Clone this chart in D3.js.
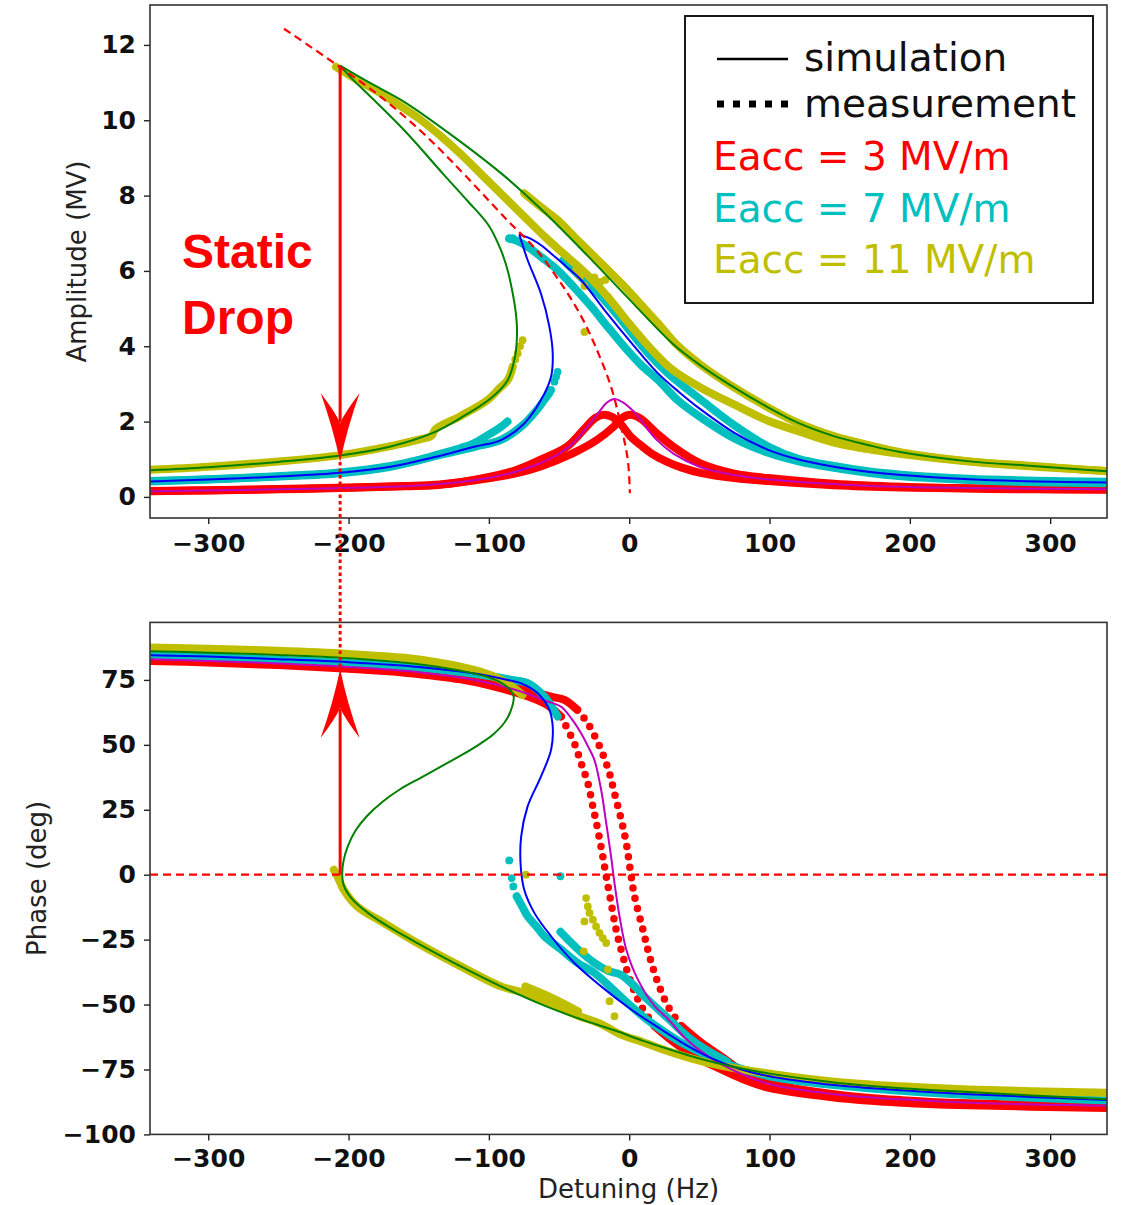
<!DOCTYPE html>
<html><head><meta charset="utf-8">
<script src="https://cdn.jsdelivr.net/npm/d3@7"></script>
<style>body{margin:0;background:#fff}</style>
</head><body><svg id="c" width="1122" height="1205"></svg>
<script>
// ---------- tick values ----------
const xTicks = [-300,-200,-100,0,100,200,300];
const ampTicks = [0,2,4,6,8,10,12];
const phaseTicks = [-100,-75,-50,-25,0,25,50,75];
const legendLabels = ["simulation","measurement","Eacc = 3 MV/m","Eacc = 7 MV/m","Eacc = 11 MV/m"];

// ---------- AMPLITUDE panel (detuning Hz, amplitude MV) ----------
const backbone = [[-246,12.43],[-208,11.46],[-177,10.62],[-149,9.73],[-126,8.89],[-87,7.35],[-66,6.55],[-47,5.58],[-34,4.78],[-24,3.99],[-13,2.93],[-5.7,1.86],[-1,0.98],[0.5,0.1]];

const redAmpA = [[-341,0.15],[-300,0.17],[-250,0.2],[-200,0.24],[-160,0.28],[-135,0.32],[-99,0.54],[-80,0.72],[-63.6,0.98],[-44.5,1.33],[-32.6,1.78],[-24.4,2.09],[-18.5,2.18],[-12.5,2.13],[-6.6,1.96],[0.6,1.62],[8,1.38],[16,1.15],[27,0.93],[38,0.77],[50.7,0.64],[75,0.5],[99,0.42],[146,0.31],[194,0.25],[242,0.22],[290,0.2],[341,0.19]];
const redAmpB = [[-341,0.16],[-300,0.18],[-250,0.21],[-200,0.25],[-160,0.29],[-135,0.33],[-99,0.5],[-80,0.63],[-63.6,0.8],[-40,1.16],[-23.1,1.51],[-11.2,1.86],[-5.3,2.09],[0.6,2.18],[7.7,2.09],[19.6,1.69],[31.5,1.33],[50.7,0.89],[75,0.62],[99,0.5],[146,0.35],[194,0.27],[242,0.23],[290,0.21],[341,0.2]];
const magentaAmp = [[-341,0.15],[-250,0.2],[-200,0.24],[-150,0.3],[-100,0.5],[-70,0.8],[-50,1.15],[-38,1.5],[-30,1.85],[-22,2.23],[-16,2.5],[-10.5,2.6],[-5,2.52],[0,2.38],[5.4,2.18],[12,1.85],[20,1.5],[31.5,1.15],[50,0.8],[75,0.58],[100,0.46],[150,0.33],[200,0.26],[250,0.23],[341,0.2]];

const cyanAmpL1 = [[-341,0.42],[-300,0.47],[-250,0.55],[-206,0.65],[-170,0.82],[-150,0.98],[-134,1.15],[-120,1.3],[-110.5,1.43],[-99,1.68],[-92,1.84],[-86.7,2.0]];
const cyanAmpL2 = [[-341,0.41],[-300,0.46],[-250,0.54],[-206,0.63],[-170,0.8],[-134,1.12],[-110,1.33],[-91,1.52],[-76,1.9],[-66,2.3],[-60,2.6],[-57,2.75]];
const cyanAmpDots = [[-55.7,2.84],[-53.3,3.06],[-52.1,3.19],[-51,3.32],[-85.5,6.86],[-83,6.87]];
const cyanAmpU1 = [[-85.5,6.86],[-80,6.8],[-72,6.63],[-62,6.35],[-51,6.02],[-39,5.55],[-27,5.05],[-15,4.5],[-3.6,3.99],[8,3.52],[20.7,3.1],[35,2.55],[51.4,2.1],[75,1.55],[99,1.17],[120,0.95],[146,0.77],[170,0.64],[194,0.55],[242,0.45],[290,0.39],[341,0.36]];
const cyanAmpU2 = [[-47,6.29],[-35,5.85],[-22,5.4],[-9,4.85],[3.8,4.25],[15,3.75],[27.6,3.28],[40,2.9],[51.4,2.57],[75,1.9],[99,1.34],[120,1.02],[146,0.82],[170,0.68],[194,0.59],[242,0.48],[290,0.43],[341,0.4]];
const blueAmp = [[-341,0.41],[-300,0.46],[-250,0.54],[-206,0.64],[-170,0.8],[-134,1.1],[-110.5,1.33],[-91.4,1.51],[-74.8,1.95],[-62.9,2.57],[-55.7,3.19],[-54.5,3.81],[-56.9,4.52],[-62.9,5.4],[-72.4,6.29],[-76.5,6.75],[-78.3,6.97],[-70,6.85],[-62,6.66],[-55.7,6.46],[-45,6.12],[-34.3,5.76],[-17.6,4.96],[3.8,3.99],[20,3.3],[35,2.8],[51.4,2.31],[75,1.7],[99,1.25],[120,1.0],[146,0.8],[170,0.67],[194,0.58],[242,0.47],[290,0.41],[341,0.38]];

const yellowAmpL = [[-341,0.72],[-300,0.8],[-250,0.94],[-206,1.11],[-170,1.35],[-150,1.52],[-141,1.62],[-138,1.8],[-120,2.15],[-101,2.57],[-92,2.9],[-86.6,3.1],[-83,3.46]];
const yellowAmpDots = [[-81.2,3.65],[-79.5,3.81],[-77.8,4.0],[-76,4.16],[-37.9,6.02],[-34.8,5.86],[-31.9,5.6],[-24.8,5.83],[-20.5,5.71],[-17.1,5.76],[-15.2,5.31],[-31.9,4.38]];
const yellowAmpU1 = [[-209,11.42],[-195,11.1],[-180,10.78],[-165,10.43],[-150,10.05],[-135,9.6],[-120,9.1],[-105,8.55],[-90,8.0],[-75,7.45],[-60,6.9],[-45,6.4],[-30,5.9],[-15,5.3],[0,4.6],[15,3.95],[30,3.4],[51,2.9],[75,2.45],[99,2.02],[120,1.75],[146,1.44],[170,1.27],[194,1.14],[242,0.94],[290,0.8],[341,0.69]];
const yellowAmpU2 = [[-74.8,8.06],[-63,7.7],[-51,7.35],[-39,6.9],[-27,6.46],[-15,6.02],[-3.3,5.58],[8.5,5.1],[20.5,4.61],[35,4.0],[50.5,3.52],[75,2.9],[98.3,2.39],[120,1.97],[145.3,1.62],[170,1.38],[193,1.19],[240.8,0.95],[287.8,0.82],[340.5,0.68]];
const greenAmp = [[-341,0.71],[-300,0.79],[-250,0.93],[-206,1.1],[-170,1.34],[-140,1.7],[-120,2.1],[-98.6,2.62],[-86.6,3.1],[-81.5,3.7],[-80.2,4.1],[-80,4.52],[-81.2,5.0],[-83,5.4],[-86.5,6.0],[-91.4,6.55],[-100,7.2],[-115,7.85],[-132,8.55],[-160,9.72],[-185,10.65],[-198,11.12],[-206,11.45],[-184.7,10.99],[-161.2,10.51],[-125.6,9.58],[-89.9,8.55],[-61.4,7.59],[-30.1,6.42],[-1.6,5.31],[31.2,4.06],[50.5,3.5],[75,2.9],[98.3,2.39],[120,1.97],[145.3,1.62],[170,1.38],[193,1.19],[240.8,0.95],[287.8,0.82],[340.5,0.68]];

// ---------- PHASE panel (detuning Hz, phase deg) ----------
const redPhA = [[-341,82.3],[-300,81.7],[-250,80.7],[-200,79.3],[-160,77.8],[-120,75.2],[-96,72.4],[-72,68.6],[-58,65.2],[-48.6,60.9],[-39.1,50.6],[-34.3,43],[-29.5,35.3],[-25.9,26.3],[-22.4,17.3],[-18.8,7.0],[-16.4,-0.6],[-12.9,-10.9],[-9.3,-21.2],[-4.5,-31.4],[1.4,-41.7],[8.6,-50.6],[18.1,-58.3],[32.4,-64.7],[46.6,-69.9],[65.7,-75],[80,-78.5],[99,-82],[146,-85.8],[194,-87.8],[242,-88.8],[341,-89.8]];
const redPhB = [[-341,82.8],[-300,82.2],[-250,81.3],[-200,80],[-150,78.3],[-100,75],[-72,71],[-55,68.5],[-46.2,67.3],[-37,63.5],[-29.5,58.3],[-20,48],[-14.1,39.1],[-10.5,31.4],[-5.7,21.2],[-2.1,12.2],[1.4,-0.6],[3.8,-8.3],[9.8,-21.2],[14.5,-31.4],[20.5,-41.7],[27.6,-50.6],[37.1,-58.3],[51.4,-64.7],[65.7,-70],[80,-75.5],[99,-80],[146,-84.5],[194,-86.8],[242,-88],[341,-89]];
const magentaPh = [[-341,83],[-300,82.3],[-250,81.3],[-200,80],[-150,78],[-110,75],[-80,71],[-60,67],[-48.6,64.7],[-41,60],[-34.3,54.5],[-28.5,48.5],[-24.8,44.2],[-20,32.7],[-16.4,19.9],[-12.9,7],[-10.5,-3.2],[-6.9,-16],[-2.1,-28.8],[6.2,-40.4],[18.1,-50.6],[27.6,-55.5],[40,-63],[55,-69.5],[75,-75.5],[99,-80.5],[146,-84.5],[194,-86.5],[242,-87.8],[341,-89]];

const cyanPhU = [[-341,84.3],[-300,83.8],[-250,82.8],[-200,81.5],[-150,79.8],[-120,78],[-100,76.5],[-84,75],[-72,73.7],[-60.5,68.6],[-51,60.9]];
const cyanPhDots = [[-85.5,5.5],[-83.8,-1.3],[-82.6,-4.5],[-49,-0.6]];
const cyanPhL1 = [[-80.2,-8.3],[-76,-12.5],[-72.4,-16],[-66,-20],[-60.5,-23.7],[-48.6,-28.8],[-36.7,-34],[-24.8,-37.8],[-12,-44],[0,-50],[12,-55.5],[25,-60.5],[40,-65.5],[55,-69.5],[70,-73],[99,-77.5],[146,-81],[194,-83.2],[242,-84.8],[341,-87]];
const cyanPhL2 = [[-49,-22],[-38,-28],[-26,-33.5],[-15,-37],[-6,-38.5],[2,-42],[10,-46.5],[20,-51.5],[30,-56.5],[42,-62.5],[55,-67.5],[70,-72]];
const bluePh = [[-341,84.5],[-300,84],[-250,83],[-200,81.8],[-150,80],[-120,78.2],[-100,76.5],[-85,74.8],[-77,73.7],[-65.2,69.9],[-56.9,63.5],[-54.5,57],[-55.7,48],[-62.9,37.8],[-72.4,26.3],[-77,14.7],[-77.3,3.2],[-74.8,-5.8],[-67.6,-14.7],[-55.7,-23.7],[-39.1,-34],[-20,-43],[1.4,-51.9],[22.9,-59.6],[41.9,-66],[60,-71],[80,-75],[99,-77.5],[146,-81],[194,-83],[242,-84.5],[341,-86.8]];

const yellowPhU = [[-341,87.5],[-300,87],[-250,86.2],[-200,85],[-160,83.5],[-130,81.2],[-110,78.8],[-95,76],[-85,73],[-76,69.2]];
const yellowPhL = [[-210.5,1.9],[-208,-0.6],[-203.4,-5.8],[-193.8,-12.2],[-174.8,-18.6],[-151,-26.3],[-120,-35.3],[-91.4,-43],[-72,-46],[-37,-54.2],[-20,-57.5],[-6.4,-61.5],[10,-64.5],[22.4,-67],[46,-71],[65,-73.5],[99,-76.5],[146,-79.7],[194,-81.5],[242,-82.7],[341,-84]];
const yellowPhL2 = [[-74,-43],[-60,-46.2],[-48,-49.3],[-36.5,-52.6]];
const yellowPhDots = [[-73.6,0],[-30.7,-9],[-29.5,-12.2],[-28.3,-14.7],[-25.9,-17.3],[-23.6,-19.9],[-21.2,-22.4],[-18.8,-24.4],[-16.4,-26.3],[-31.9,-18],[-32.4,-29.5],[-15.2,-36.5],[-14,-48.7],[-10.5,-54.5]];
const greenPh = [[-341,86],[-300,85.5],[-250,84.6],[-200,83.3],[-150,81],[-120,78.5],[-100,76],[-90,73.5],[-84.5,71],[-82.3,68.6],[-84.5,63],[-89,58.5],[-97,54],[-106,50.5],[-118,46.5],[-132,42.3],[-148,37.5],[-163,33],[-176,28],[-187,22.5],[-195,17],[-200.5,11],[-203.5,5.5],[-204.5,0.6],[-203.5,-4],[-198,-9],[-186,-14.8],[-170,-20.5],[-151,-26.3],[-120,-35.3],[-91.4,-43],[-60,-50.5],[-30,-56.5],[-10,-60],[10,-64],[30,-67.5],[50,-70.8],[70,-73.5],[99,-76.5],[146,-80],[194,-82.2],[242,-83.7],[341,-86.5]];

// static drop annotation (data coordinates)
const dropDetuning = -206;
const dropAmpTop = 11.45, dropAmpBottom = 0.93;
const dropPhaseFrom = 0, dropPhaseTo = 79.2;

// ---------- drawing ----------
const C = {red:"#ff0000", cyan:"#00bfbf", yellow:"#bfbf00", green:"#008000", blue:"#0000ff", magenta:"#bf00bf"};
const svg = d3.select("#c");
const X0 = 150, X1 = 1107;
const T = {t:5, b:518}, B = {t:622.4, b:1134.4};
const x = d3.scaleLinear().domain([-341.5,340.5]).range([X0,X1]);
const yA = d3.scaleLinear().domain([-0.56,13.06]).range([T.b,T.t]);
const yP = d3.scaleLinear().domain([-100,97.15]).range([B.b,B.t]);

const defs = svg.append("defs");
defs.append("clipPath").attr("id","clipT").append("rect").attr("x",X0).attr("y",T.t).attr("width",X1-X0).attr("height",T.b-T.t);
defs.append("clipPath").attr("id","clipB").append("rect").attr("x",X0).attr("y",B.t).attr("width",X1-X0).attr("height",B.b-B.t);

const gT = svg.append("g").attr("clip-path","url(#clipT)");
const gB = svg.append("g").attr("clip-path","url(#clipB)");

const mk = y => d3.line().x(d=>x(d[0])).y(d=>y(d[1])).curve(d3.curveCatmullRom.alpha(0.5));
const lnA = mk(yA), lnP = mk(yP);

function band(g, ln, data, color){
  g.append("path").attr("d", ln(data)).attr("fill","none").attr("stroke",color)
   .attr("stroke-width",8).attr("stroke-linecap","round").attr("stroke-linejoin","round");
}
function simLine(g, ln, data, color){
  g.append("path").attr("d", ln(data)).attr("fill","none").attr("stroke",color).attr("stroke-width",2);
}
// S-curve with a sharp resonance peak: draw the two sides of the apex separately
function simPeak(g, ln, data, color){
  const i = d3.maxIndex(data, d=>d[1]);
  simLine(g, ln, data.slice(0,i+1), color);
  simLine(g, ln, data.slice(i), color);
}
function dots(g, y, data, color){
  g.selectAll(null).data(data).enter().append("circle")
   .attr("cx",d=>x(d[0])).attr("cy",d=>y(d[1])).attr("r",3.9).attr("fill",color);
}
function measSplit(g, ln, data, color, pred){
  const runs=[]; let cur=null;
  for(let i=1;i<data.length;i++){
    const t = pred(data[i-1]) && pred(data[i]);
    if(!cur || cur.t!==t){ cur={t, pts:[data[i-1]]}; runs.push(cur); }
    cur.pts.push(data[i]);
  }
  runs.forEach(r=>{
    const p = g.append("path").attr("d", ln(r.pts)).attr("fill","none").attr("stroke",color)
      .attr("stroke-linecap","round").attr("stroke-linejoin","round");
    if(r.t) p.attr("stroke-width",7.5).attr("stroke-dasharray","0 10.5");
    else p.attr("stroke-width",8);
  });
}

// --- top panel curves ---
band(gT, lnA, redAmpA, C.red);
band(gT, lnA, redAmpB, C.red);
band(gT, lnA, cyanAmpL1, C.cyan);
band(gT, lnA, cyanAmpL2, C.cyan);
band(gT, lnA, cyanAmpU1, C.cyan);
band(gT, lnA, cyanAmpU2, C.cyan);
dots(gT, yA, cyanAmpDots, C.cyan);
band(gT, lnA, yellowAmpL, C.yellow);
band(gT, lnA, yellowAmpU1, C.yellow);
band(gT, lnA, yellowAmpU2, C.yellow);
dots(gT, yA, yellowAmpDots, C.yellow);
simLine(gT, lnA, magentaAmp, C.magenta);
simPeak(gT, lnA, blueAmp, C.blue);
simPeak(gT, lnA, greenAmp, C.green);
gT.append("path").attr("d", lnA(backbone)).attr("fill","none").attr("stroke",C.red)
  .attr("stroke-width",2.2).attr("stroke-dasharray","8 5");

// --- bottom panel curves ---
const steep = d => Math.abs(d[1]) < 64;
measSplit(gB, lnP, redPhA, C.red, steep);
measSplit(gB, lnP, redPhB, C.red, steep);
band(gB, lnP, cyanPhU, C.cyan);
band(gB, lnP, cyanPhL1, C.cyan);
band(gB, lnP, cyanPhL2, C.cyan);
dots(gB, yP, cyanPhDots, C.cyan);
band(gB, lnP, yellowPhU, C.yellow);
band(gB, lnP, yellowPhL, C.yellow);
band(gB, lnP, yellowPhL2, C.yellow);
dots(gB, yP, yellowPhDots, C.yellow);
simLine(gB, lnP, magentaPh, C.magenta);
simLine(gB, lnP, bluePh, C.blue);
simLine(gB, lnP, greenPh, C.green);
gB.append("line").attr("x1",X0).attr("x2",X1).attr("y1",yP(0)).attr("y2",yP(0))
  .attr("stroke",C.red).attr("stroke-width",2.2).attr("stroke-dasharray","8 5");

// --- axes ---
const fmt = d => d<0 ? "\u2212"+Math.abs(d) : String(d);
function styleAxis(g){
  g.select(".domain").remove();
  g.selectAll(".tick line").attr("stroke","#222").attr("stroke-width",1.4);
  g.selectAll(".tick text").style("font-size","25px").style("font-weight","bold").attr("fill","#111")
   .style("font-family","'DejaVu Sans'");
}
styleAxis(svg.append("g").attr("transform",`translate(0,${T.b})`)
  .call(d3.axisBottom(x).tickValues(xTicks).tickSize(6).tickPadding(10).tickFormat(fmt)));
styleAxis(svg.append("g").attr("transform",`translate(0,${B.b})`)
  .call(d3.axisBottom(x).tickValues(xTicks).tickSize(6).tickPadding(9).tickFormat(fmt)));
styleAxis(svg.append("g").attr("transform",`translate(${X0},0)`)
  .call(d3.axisLeft(yA).tickValues(ampTicks).tickSize(6).tickPadding(8).tickFormat(fmt)));
styleAxis(svg.append("g").attr("transform",`translate(${X0},0)`)
  .call(d3.axisLeft(yP).tickValues(phaseTicks).tickSize(6).tickPadding(8).tickFormat(fmt)));

[T,B].forEach(p=>svg.append("rect").attr("x",X0).attr("y",p.t).attr("width",X1-X0).attr("height",p.b-p.t)
  .attr("fill","none").attr("stroke","#333").attr("stroke-width",1.6));

// axis labels
const lab = (sel)=>sel.style("font-family","'DejaVu Sans'").style("font-size","26px").attr("fill","#222");
lab(svg.append("text").attr("transform",`translate(86,${(T.t+T.b)/2}) rotate(-90)`).attr("text-anchor","middle")).text("Amplitude (MV)");
lab(svg.append("text").attr("transform",`translate(46,${(B.t+B.b)/2}) rotate(-90)`).attr("text-anchor","middle")).text("Phase (deg)");
lab(svg.append("text").attr("x",(X0+X1)/2).attr("y",1198).attr("text-anchor","middle")).text("Detuning (Hz)");

// --- legend ---
const lg = svg.append("g");
lg.append("rect").attr("x",685).attr("y",16).attr("width",408).attr("height",287)
  .attr("fill","#fff").attr("stroke","#000").attr("stroke-width",1.8);
lg.append("line").attr("x1",717).attr("x2",788).attr("y1",59).attr("y2",59).attr("stroke","#000").attr("stroke-width",2.6);
lg.append("line").attr("x1",717).attr("x2",788).attr("y1",104).attr("y2",104).attr("stroke","#000")
  .attr("stroke-width",7).attr("stroke-dasharray","7 9");
const legRows = [
  {t:legendLabels[0], x:804, y:71, c:"#111"},
  {t:legendLabels[1], x:804, y:117, c:"#111"},
  {t:legendLabels[2], x:713, y:170, c:C.red},
  {t:legendLabels[3], x:713, y:221.5, c:C.cyan},
  {t:legendLabels[4], x:713, y:273, c:C.yellow}];
legRows.forEach(r=>lg.append("text").attr("x",r.x).attr("y",r.y)
  .style("font-family","'DejaVu Sans'").style("font-size","39px").attr("fill",r.c).text(r.t));

// --- Static drop annotation ---
[["Static",268],["Drop",334]].forEach(([t,yy])=>svg.append("text").attr("x",182).attr("y",yy)
  .style("font-family","'Liberation Sans', Arial, sans-serif").style("font-weight","bold")
  .style("font-size","48px").attr("fill",C.red).text(t));

const ax = x(dropDetuning);
function head(tipX, tipY, s){ // s=+1 pointing down, -1 up
  const p = d3.path();
  p.moveTo(tipX, tipY);
  p.quadraticCurveTo(tipX-7, tipY - s*34, tipX-19.5, tipY - s*69);
  p.quadraticCurveTo(tipX-5, tipY - s*50, tipX, tipY - s*39);
  p.quadraticCurveTo(tipX+5, tipY - s*50, tipX+19.5, tipY - s*69);
  p.quadraticCurveTo(tipX+7, tipY - s*34, tipX, tipY);
  p.closePath();
  return p.toString();
}
const tipA = yA(dropAmpBottom), tipP = yP(dropPhaseTo);
svg.append("line").attr("x1",ax).attr("x2",ax).attr("y1",tipA).attr("y2",tipP)
  .attr("stroke",C.red).attr("stroke-width",3).attr("stroke-dasharray","3.5 3");
svg.append("line").attr("x1",ax).attr("x2",ax).attr("y1",yA(dropAmpTop)).attr("y2",tipA-40)
  .attr("stroke",C.red).attr("stroke-width",3);
svg.append("path").attr("d",head(ax,tipA,1)).attr("fill",C.red);
svg.append("line").attr("x1",ax).attr("x2",ax).attr("y1",yP(dropPhaseFrom)).attr("y2",tipP+40)
  .attr("stroke",C.red).attr("stroke-width",3);
svg.append("path").attr("d",head(ax,tipP,-1)).attr("fill",C.red);
</script></body></html>
